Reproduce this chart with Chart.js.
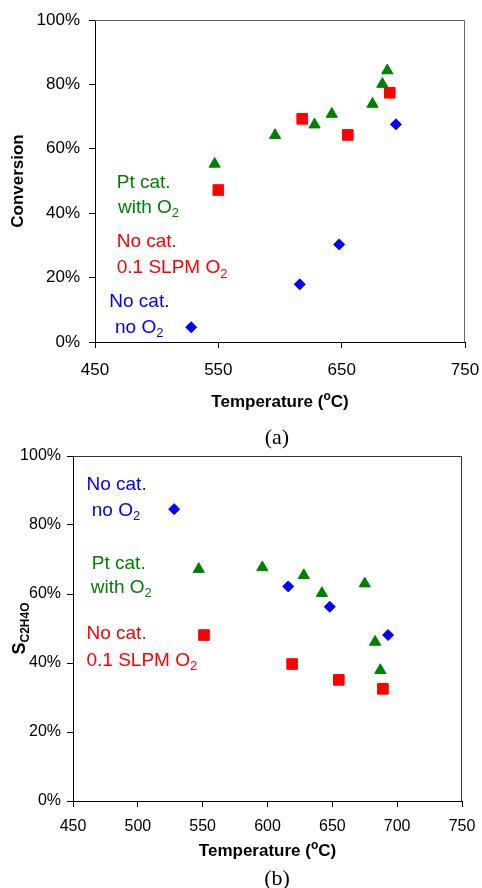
<!DOCTYPE html>
<html>
<head>
<meta charset="utf-8">
<script src="https://cdn.jsdelivr.net/npm/chart.js@4.4.1/dist/chart.umd.min.js"></script>
<style>
  body { margin: 0; background: #fff; }
  #wrap { position: relative; width: 482px; height: 888px; overflow: hidden; }
  canvas { position: absolute; left: 0; }
  #chartA { top: 0; }
  #chartB { top: 440px; }
  .cap { position: absolute; left: 227px; width: 100px; text-align: center;
         font: 22px "Liberation Serif", "Times New Roman", serif; line-height: 22px; color: #000; }
</style>
</head>
<body>
<div id="wrap">
  <canvas id="chartA" width="482" height="440"></canvas>
  <canvas id="chartB" width="482" height="448"></canvas>
  <div class="cap" style="top:426px">(a)</div>
  <div class="cap" style="top:867px">(b)</div>
</div>
<script>
// (a) conversion vs temperature
var tempPtA = [547, 596, 628, 642, 675, 683, 687];
var convPtA = [55.3, 64.2, 67.5, 70.8, 73.9, 80.1, 84.3];
var tempO2A = [550, 618, 655, 689];
var convO2A = [47.2, 69.3, 64.3, 77.4];
var tempNoA = [528, 616, 648, 694];
var convNoA = [4.6, 17.9, 30.3, 67.6];

// (b) C2H4O selectivity vs temperature
var tempNoB = [528, 616, 648, 693];
var selNoB = [84.6, 62.2, 56.3, 48.1];
var tempPtB = [547, 596, 628, 642, 675, 683, 687];
var selPtB = [67.2, 67.7, 65.4, 60.2, 63.0, 46.1, 37.9];
var tempO2B = [551, 619, 655, 689];
var selO2B = [48.1, 39.7, 35.1, 32.5];

var xTicksA = [450, 550, 650, 750];
var xTicksB = [450, 500, 550, 600, 650, 700, 750];
var yTicks = [0, 20, 40, 60, 80, 100];

var GREEN = '#008000', RED = '#ff0000', BLUE = '#0000ff';
var FONT = '"Liberation Sans", Arial, sans-serif';

function pts(xs, ys) {
  return xs.map(function (x, i) { return { x: x, y: ys[i] }; });
}

// draw text made of pieces, some sub/superscript; returns end x
function rich(ctx, x, y, parts, size, bold, measureOnly) {
  parts.forEach(function (p) {
    var small = p.sub || p.sup;
    ctx.font = (bold ? 'bold ' : '') + (small ? Math.round(size * 0.68) : size) + 'px ' + FONT;
    var dy = p.sub ? size * 0.22 : (p.sup ? -size * 0.42 : 0);
    if (!measureOnly) ctx.fillText(p.t, x, y + dy);
    x += ctx.measureText(p.t).width;
  });
  return x;
}

function noPad(s) {
  s.paddingLeft = 0; s.paddingRight = 0; s.paddingTop = 0; s.paddingBottom = 0;
}

var decor = {
  id: 'decor',
  beforeDatasetsDraw: function (chart, args, o) {
    var ctx = chart.ctx, a = chart.chartArea;
    ctx.save();
    ctx.strokeStyle = o.frame;
    ctx.lineWidth = 1;
    ctx.beginPath();
    ctx.moveTo(Math.round(a.left), Math.round(a.top) + 0.5);
    ctx.lineTo(Math.round(a.right) - 0.5, Math.round(a.top) + 0.5);
    ctx.lineTo(Math.round(a.right) - 0.5, Math.round(a.bottom));
    ctx.stroke();
    ctx.restore();
  },
  afterDraw: function (chart, args, o) {
    var ctx = chart.ctx, a = chart.chartArea, sx = chart.scales.x, sy = chart.scales.y;
    ctx.save();
    ctx.textBaseline = 'alphabetic';
    ctx.textAlign = 'left';
    // series labels inside the plot
    o.labels.forEach(function (l) {
      ctx.fillStyle = l.color;
      rich(ctx, sx.getPixelForValue(l.x), sy.getPixelForValue(l.y), l.parts, 19, false);
    });
    ctx.fillStyle = '#000';
    // x title
    var xt = [{ t: 'Temperature (' }, { t: 'o', sup: true }, { t: 'C)' }];
    var w = rich(ctx, 0, 0, xt, 17, true, true);
    rich(ctx, (a.left + a.right) / 2 - w / 2, o.xTitleY, xt, 17, true);
    // y title
    ctx.translate(o.yTitleX, o.yTitleY);
    ctx.rotate(-Math.PI / 2);
    var yw = rich(ctx, 0, 0, o.yTitle, o.yTitleSize, true, true);
    rich(ctx, -yw / 2, 0, o.yTitle, o.yTitleSize, true);
    ctx.restore();
  }
};

function makeChart(id, sets, cfg) {
  return new Chart(document.getElementById(id), {
    type: 'scatter',
    data: {
      datasets: sets.map(function (s) {
        return {
          data: s.data,
          pointStyle: s.style,
          pointRadius: s.r,
          pointHoverRadius: s.r,
          backgroundColor: s.color,
          borderColor: s.color,
          borderWidth: 1
        };
      })
    },
    options: {
      responsive: false,
      animation: false,
      devicePixelRatio: 1,
      layout: { padding: { left: 0, top: cfg.top, right: cfg.right, bottom: 0 } },
      plugins: {
        legend: { display: false },
        tooltip: { enabled: false },
        decor: cfg.decor
      },
      scales: {
        x: {
          type: 'linear', min: 450, max: 750,
          afterBuildTicks: function (s) { s.ticks = cfg.xTicks.map(function (v) { return { value: v }; }); },
          afterFit: function (s) { s.height = cfg.xHeight; noPad(s); },
          border: { color: '#000', width: 1 },
          grid: { drawOnChartArea: false, drawTicks: true, tickLength: 6, color: '#000' },
          ticks: { color: '#000', padding: cfg.xPad, maxRotation: 0, font: { family: FONT, size: cfg.tickSize } }
        },
        y: {
          min: 0, max: 100,
          afterBuildTicks: function (s) { s.ticks = yTicks.map(function (v) { return { value: v }; }); },
          afterFit: function (s) { s.width = cfg.yWidth; noPad(s); },
          border: { color: '#000', width: 1 },
          grid: { drawOnChartArea: false, drawTicks: true, tickLength: 6, color: '#000' },
          ticks: {
            color: '#000', padding: cfg.yPad, font: { family: FONT, size: cfg.tickSize },
            callback: function (v) { return v + '%'; }
          }
        }
      }
    },
    plugins: [decor]
  });
}

makeChart('chartA', [
  { data: pts(tempPtA, convPtA), style: 'triangle', r: 6.5, color: GREEN },
  { data: pts(tempO2A, convO2A), style: 'rect', r: 7.5, color: RED },
  { data: pts(tempNoA, convNoA), style: 'rectRot', r: 5.5, color: BLUE }
], {
  top: 20, right: 17, xHeight: 98, yWidth: 95, xTicks: xTicksA, tickSize: 17, xPad: 12, yPad: 9,
  decor: {
    frame: '#666', xTitleY: 407, yTitleX: 23, yTitleY: 181, yTitleSize: 17,
    yTitle: [{ t: 'Conversion' }],
    labels: [
      { x: 467.6, y: 47.7, color: GREEN, parts: [{ t: 'Pt cat.' }] },
      { x: 468.6, y: 40.0, color: GREEN, parts: [{ t: 'with O' }, { t: '2', sub: true }] },
      { x: 467.6, y: 29.4, color: RED, parts: [{ t: 'No cat.' }] },
      { x: 467.6, y: 21.3, color: RED, parts: [{ t: '0.1 SLPM O' }, { t: '2', sub: true }] },
      { x: 461.6, y: 10.8, color: BLUE, parts: [{ t: 'No cat.' }] },
      { x: 466.2, y: 2.7, color: BLUE, parts: [{ t: 'no O' }, { t: '2', sub: true }] }
    ]
  }
});

makeChart('chartB', [
  { data: pts(tempNoB, selNoB), style: 'rectRot', r: 5.5, color: BLUE },
  { data: pts(tempPtB, selPtB), style: 'triangle', r: 6.5, color: GREEN },
  { data: pts(tempO2B, selO2B), style: 'rect', r: 7.5, color: RED }
], {
  top: 16, right: 20, xHeight: 87, yWidth: 73, xTicks: xTicksB, tickSize: 16, xPad: 10, yPad: 6,
  decor: {
    frame: '#333', xTitleY: 416, yTitleX: 25, yTitleY: 188.5, yTitleSize: 18,
    yTitle: [{ t: 'S' }, { t: 'C2H4O', sub: true }],
    labels: [
      { x: 460.4, y: 90.1, color: BLUE, parts: [{ t: 'No cat.' }] },
      { x: 464.5, y: 82.6, color: BLUE, parts: [{ t: 'no O' }, { t: '2', sub: true }] },
      { x: 464.5, y: 67.2, color: GREEN, parts: [{ t: 'Pt cat.' }] },
      { x: 463.7, y: 60.3, color: GREEN, parts: [{ t: 'with O' }, { t: '2', sub: true }] },
      { x: 460.4, y: 46.9, color: RED, parts: [{ t: 'No cat.' }] },
      { x: 460.4, y: 39.2, color: RED, parts: [{ t: '0.1 SLPM O' }, { t: '2', sub: true }] }
    ]
  }
});
</script>
</body>
</html>
